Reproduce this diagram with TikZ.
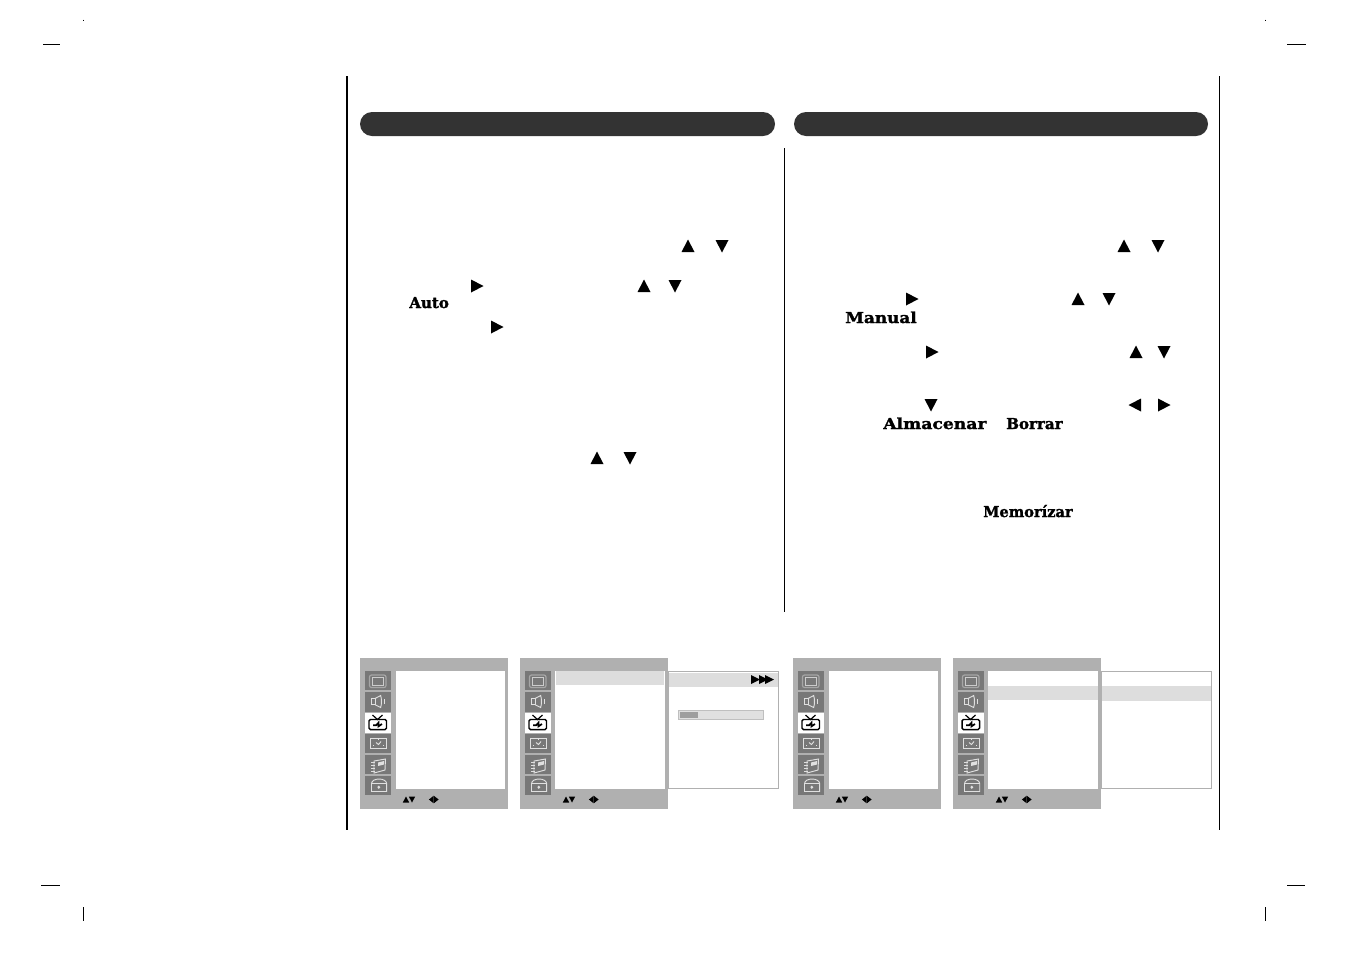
\documentclass[tikz,border=0pt]{standalone}
\usepackage{fontspec}
\newfontfamily\slabfont[BoldFont={DejaVu Serif Bold},BoldFeatures={FakeBold=1.6}]{DejaVu Serif}
\usetikzlibrary{calc}
\definecolor{barDark}{HTML}{333333}
\definecolor{panelGrey}{HTML}{B0B0B0}
\definecolor{iconGrey}{HTML}{787878}
\definecolor{iconLine}{HTML}{E0E0E0}
\definecolor{rowGrey}{HTML}{DDDDDD}
\tikzset{
	label text/.style={anchor=base west, inner sep=0pt, font=\slabfont\bfseries\fontsize{11.3}{12}\selectfont},
	wide text/.style={label text, font=\slabfont\bfseries\fontsize{11.3}{12}\selectfont\addfontfeature{FakeStretch=#1}},
	icon box/.style={fill=iconGrey},
	icon stroke/.style={draw=iconLine, line width=0.7pt},
	tv stroke/.style={draw=black, line width=1.1pt},
	crop mark/.style={line width=0.75pt}
}
\def\arrowmark(#1,#2)(#3){\fill[shift={(#1,#2)},rotate=#3] (6.5,0) -- (-6,6.5) -- (-6,-6.5) -- cycle;}
\def\smallmark(#1,#2)(#3){\fill[shift={(#1,#2)},rotate=#3] (3,0) -- (-3,3.2) -- (-3,-3.2) -- cycle;}
\def\narrowmark(#1,#2)(#3){\fill[shift={(#1,#2)},rotate=#3] (2.4,0) -- (-2.4,3.8) -- (-2.4,-3.8) -- cycle;}
\def\menupanel(#1,#2)(#3){
	\begin{scope}[shift={(#1,#2)}]
		\fill[panelGrey] (0, 0) rectangle (148, 151);
		\fill[white] (#3, 13) rectangle (145, 131);
		
		\fill[icon box] (5, 13) rectangle (31, 32);
		\fill[icon box] (5, 34) rectangle (31, 54);
		\fill[white] (5, 55) rectangle (31, 75);
		\fill[icon box] (5, 76) rectangle (31, 95);
		\fill[icon box] (5, 97) rectangle (31, 116);
		\fill[icon box] (5, 118) rectangle (31, 137);
		
		\draw[draw=black!35, line width=0.9pt, rounded corners=1.5] (9.5, 17) rectangle (26, 29.5);
		\draw[icon stroke, draw=black!20, line width=0.6pt] (12, 19.3) rectangle (23.7, 27.5);
		
		\draw[icon stroke] (11.7, 40.5) rectangle (15, 46.7);
		\draw[icon stroke] (15, 40.5) -- (20.7, 37.5) .. controls (21.7, 41) and (21.7, 46) .. (20.7, 49.5) -- (15, 46.7);
		\draw[icon stroke] (24, 41) -- (24, 46);
		
		\draw[tv stroke, rounded corners=1] (9, 61.5) rectangle (26.5, 71.5);
		\draw[tv stroke, line width=0.9pt] (12.5, 57) -- (17.5, 61.5) -- (22.5, 57);
		\draw[line width=1.3pt] (13, 67.3) -- (16, 67.3) -- (18.5, 64.7) -- (18.5, 68.3) -- (22, 66);
		
		\draw[icon stroke] (10.7, 80.3) rectangle (26, 90.5);
		\draw[icon stroke] (16, 84.5) -- (18.5, 86.5) -- (21, 83.5);
		\draw[icon stroke] (13, 87) -- (13.7, 87);
		\draw[icon stroke] (23.3, 87) -- (24, 87);
		\draw[icon stroke] (18.2, 81.8) -- (18.8, 81.8);
		
		\draw[icon stroke] (14, 103) -- (25.5, 101) -- (25, 112) -- (14, 115) -- cycle;
		\draw[icon stroke] (11, 104) -- (15, 104);
		\draw[icon stroke] (11, 107) -- (15, 107);
		\draw[icon stroke] (11, 110) -- (15, 110);
		\draw[icon stroke] (11, 113) -- (15, 113);
		\fill[iconLine] (18, 104.5) -- (24, 103) -- (24, 106.5) -- (18, 108) -- cycle;
		
		\draw[icon stroke] (11.5, 133.5) -- (11.5, 125.5) .. controls (12, 119.5) and (26, 119.5) .. (26.7, 125.5) -- (26.7, 133.5) -- cycle;
		\draw[icon stroke] (11.5, 125) -- (26.7, 125);
		\fill[iconLine] (18.8, 127.5) -- (20.3, 129.2) -- (18.8, 130.9) -- (17.3, 129.2) -- cycle;
		
		\smallmark(46,141.5)(90);
		\smallmark(52,141.5)(-90);
		\narrowmark(71.3,141.5)(180);
		\narrowmark(76.2,141.5)(0);
	\end{scope}
}

\begin{document}
\begin{tikzpicture}[x=0.75pt, y=-0.75pt]
	\useasboundingbox (0, 0) rectangle (1351, 954);
	\fill[white] (0, 0) rectangle (1351, 954);
	
	% page frame
	\draw[line width=1.5pt] (347, 76) -- (347, 830);
	\draw[line width=0.75pt] (784.5, 148) -- (784.5, 612);
	\draw[line width=0.75pt] (1219.5, 76) -- (1219.5, 830);
	
	\fill[barDark, rounded corners=9pt] (360, 112) rectangle (775, 136);
	\fill[barDark, rounded corners=9pt] (794, 112) rectangle (1208, 136);
	
	% crop marks
	\draw[crop mark] (43, 44) -- (60, 44);
	\draw[crop mark] (1287, 44) -- (1306, 44);
	\draw[crop mark] (41, 885) -- (60, 885);
	\draw[crop mark] (1287, 885) -- (1305, 885);
	\draw[crop mark] (83, 19.5) -- (83, 20.5);
	\draw[crop mark] (1265, 19.5) -- (1265, 20.5);
	\draw[crop mark] (83.5, 907) -- (83.5, 921);
	\draw[crop mark] (1265.5, 907) -- (1265.5, 921);
	
	% left column
	\arrowmark(688,246)(90);
	\arrowmark(722,246)(-90);
	\arrowmark(477,286)(0);
	\arrowmark(644,286)(90);
	\arrowmark(675,286)(-90);
	\node[label text] (autoLabel) at (409, 308) {Auto};
	\arrowmark(497,327)(0);
	\arrowmark(597,458)(90);
	\arrowmark(630,458)(-90);
	
	% right column
	\arrowmark(1124,246)(90);
	\arrowmark(1158,246)(-90);
	\arrowmark(912,299)(0);
	\arrowmark(1078,299)(90);
	\arrowmark(1109,299)(-90);
	\node[wide text=1.12] (manualLabel) at (845, 323) {Manual};
	\arrowmark(932,352)(0);
	\arrowmark(1136,352)(90);
	\arrowmark(1164,352)(-90);
	\arrowmark(931,405)(-90);
	\arrowmark(1135,405)(180);
	\arrowmark(1164,405)(0);
	\node[wide text=1.14] (storeLabel) at (883, 429) {Almacenar};
	\node[label text] (eraseLabel) at (1006, 429) {Borrar};
	\node[wide text=0.97] (memoLabel) at (983, 517) {Memorízar};
	
	% menu panels
	\menupanel(360,658)(36)
	\menupanel(520,658)(35)
	\menupanel(793,658)(36)
	\menupanel(953,658)(35)
	
	\fill[rowGrey] (556, 671) rectangle (664, 685);
	\draw[panelGrey, line width=0.75pt] (668, 671.5) rectangle (778.5, 788.5);
	\fill[rowGrey] (669, 673) rectangle (778, 687);
	\foreach \tipx in {757, 765, 771} {
		\fill (\tipx-6, 675) -- (\tipx+3, 679.5) -- (\tipx-6, 684) -- cycle;
	}
	\draw[draw=black!25, fill=black!12, line width=0.75pt] (678.5, 710.5) rectangle (763, 719);
	\fill[black!38] (680, 712) rectangle (698, 717.5);
	
	\fill[rowGrey] (988, 686) rectangle (1098, 700);
	\draw[panelGrey, line width=0.75pt] (1101.5, 671.5) rectangle (1211.5, 788.5);
	\fill[rowGrey] (1102, 686) rectangle (1211, 701);
\end{tikzpicture}
\end{document}
